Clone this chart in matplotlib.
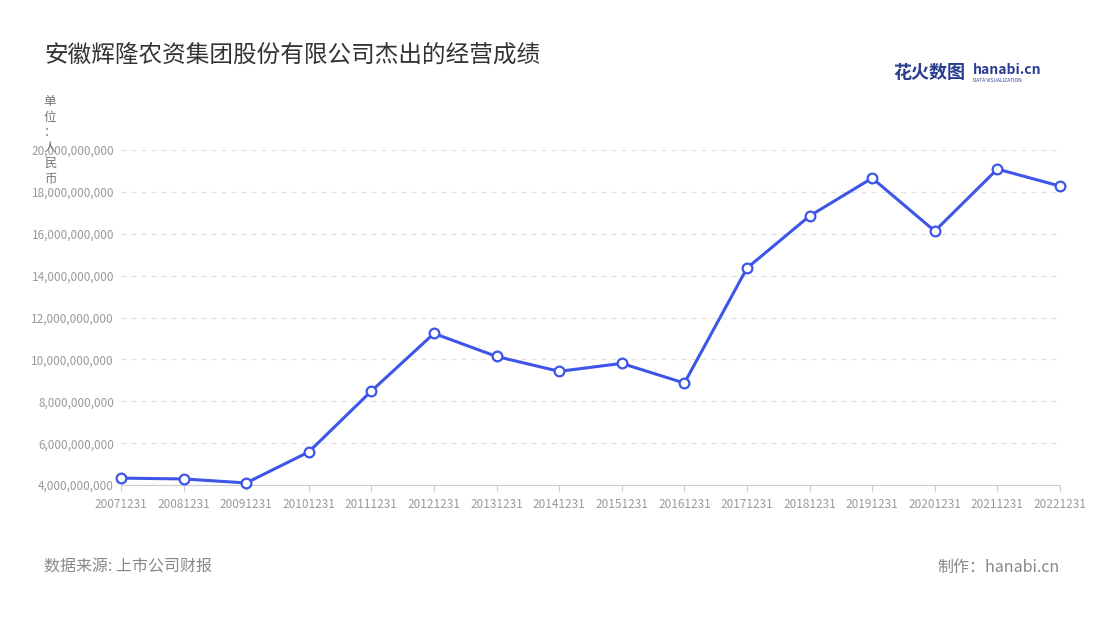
import matplotlib
matplotlib.use("Agg")
import matplotlib.pyplot as plt
from matplotlib.ticker import FuncFormatter

plt.rcParams['font.family'] = ['Noto Sans CJK SC', 'DejaVu Sans']

years = ["20071231","20081231","20091231","20101231","20111231","20121231","20131231","20141231",
         "20151231","20161231","20171231","20181231","20191231","20201231","20211231","20221231"]
revenue = [4.33e9,4.29e9,4.10e9,5.58e9,8.49e9,11.24e9,10.14e9,9.43e9,
           9.81e9,8.87e9,14.36e9,16.85e9,18.66e9,16.13e9,19.09e9,18.28e9]
yticks = [4e9,6e9,8e9,10e9,12e9,14e9,16e9,18e9,20e9]

fig = plt.figure(figsize=(11,6.2), dpi=100)
ax = fig.add_axes([0.11, 0.2177, 0.8536, 0.5403])
x = list(range(len(years)))
ax.plot(x, revenue, color='#3d55e8', lw=2.2, marker='o', ms=7,
        mfc='white', mec='#3d55e8', mew=1.6, zorder=3, clip_on=False)
ax.set_xlim(0, len(years)-1)
ax.set_ylim(4e9, 20e9)
ax.set_yticks(yticks)
ax.yaxis.set_major_formatter(FuncFormatter(lambda v,p: f"{int(v):,}"))
ax.set_xticks(x)
ax.set_xticklabels(years)
ax.tick_params(axis='both', labelsize=8.5, colors='#999999', length=0, pad=5)
ax.tick_params(axis='x', length=4, color='#cccccc')
ax.grid(axis='y', ls=(0,(4,4)), color='#e0e0e0', lw=0.9)
for s in ['top','right','left']:
    ax.spines[s].set_visible(False)
ax.spines['bottom'].set_color('#cccccc')

fig.text(44/1100, 1-55/620, "安徽辉隆农资集团股份有限公司杰出的经营成绩", fontsize=17, color='#333333', va='center')
fig.text(50/1100, 1-95/620, "单\n位\n：\n人\n民\n币", fontsize=9, color='#777777', va='top', ha='center', linespacing=1.25)
fig.text(44/1100, 1-567/620, "数据来源: 上市公司财报", fontsize=11.5, color='#888888', va='center')
fig.text(1060/1100, 1-567/620, "制作：hanabi.cn", fontsize=11.5, color='#888888', va='center', ha='right')
fig.text(893/1100, 1-72/620, "花火数图", fontsize=13, color='#2a3c8f', va='center', fontweight='bold')
fig.text(973/1100, 1-70/620, "hanabi.cn", fontsize=10, color='#2a3c8f', va='center', fontweight='bold')
fig.text(973/1100, 1-80/620, "DATA VISUALIZATION", fontsize=3.5, color='#2a3c8f', va='center')
fig.savefig("out.png", dpi=100)
